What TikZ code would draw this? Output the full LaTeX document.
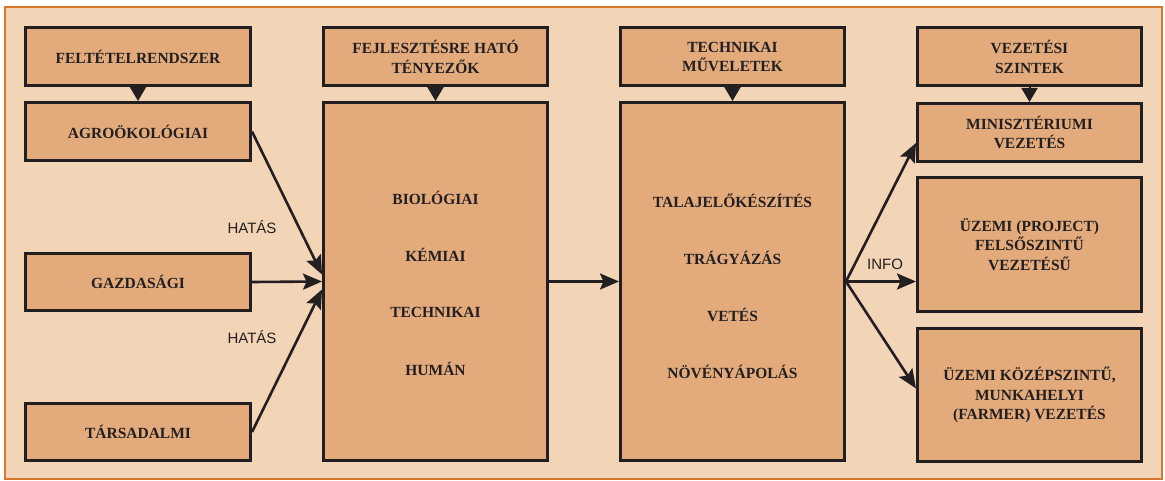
\documentclass[tikz,border=0pt]{standalone}
\usepackage{fontspec}
\setmainfont{Liberation Serif}
\newfontfamily\sansf{Liberation Sans}
\usetikzlibrary{arrows.meta}
\definecolor{peach}{HTML}{F2D4B7}
\definecolor{boxfill}{HTML}{E3AB7C}
\definecolor{frameor}{HTML}{D8762B}
\definecolor{ink}{HTML}{231F20}
\tikzset{
  boxnode/.style={draw=ink, fill=boxfill, line width=3pt, inner sep=0pt,
    align=center, text=ink, font=\bfseries\fontsize{15.5}{19.5}\selectfont},
  wide1/.style={minimum width=225pt},
  wide2/.style={minimum width=224pt},
  itemtext/.style={text=ink, font=\bfseries\fontsize{15.5}{19.5}\selectfont},
  lbl/.style={text=ink, font=\sansf\fontsize{15}{18}\selectfont},
  arr/.style={draw=ink, line width=2.6pt, -{Stealth[length=19pt,width=16pt,inset=3.5pt]}},
  downarr/.style={draw=ink, line width=2pt, -{Triangle[length=14pt,width=16pt]}}
}
\begin{document}
\begin{tikzpicture}[x=1pt,y=-1pt]
\useasboundingbox (0,0) rectangle (1165,481);
\fill[white] (0,0) rectangle (1165,481);
\draw[frameor, line width=2.2pt, fill=peach] (5,7) rectangle (1162,479);

% column 1
\node[boxnode, wide1, minimum height=58pt] (f1) at (138,56.5) {FELTÉTELRENDSZER};
\node[boxnode, wide1, minimum height=58pt] (a1) at (138,131.5) {AGROÖKOLÓGIAI};
\node[boxnode, wide1, minimum height=57pt] (g1) at (138,282) {GAZDASÁGI};
\node[boxnode, wide1, minimum height=57pt] (t1) at (138,432) {TÁRSADALMI};

% column 2
\node[boxnode, wide2, minimum height=58pt] (f2) at (435.5,57) {FEJLESZTÉSRE HATÓ\\TÉNYEZŐK};
\node[boxnode, wide2, minimum height=358pt] (b2) at (435.5,281.5) {};
\node[itemtext] (b2a) at (435.5,198) {BIOLÓGIAI};
\node[itemtext] (b2b) at (435.5,255) {KÉMIAI};
\node[itemtext] (b2c) at (435.5,312) {TECHNIKAI};
\node[itemtext] (b2d) at (435.5,369) {HUMÁN};

% column 3
\node[boxnode, wide2, minimum height=58pt] (f3) at (732.5,57) {TECHNIKAI\\MŰVELETEK};
\node[boxnode, wide2, minimum height=358pt] (b3) at (732.5,281.5) {};
\node[itemtext] (b3a) at (732.5,201) {TALAJELŐKÉSZÍTÉS};
\node[itemtext] (b3b) at (732.5,258) {TRÁGYÁZÁS};
\node[itemtext] (b3c) at (732.5,315) {VETÉS};
\node[itemtext] (b3d) at (732.5,372) {NÖVÉNYÁPOLÁS};

% column 4
\node[boxnode, wide2, minimum height=58pt] (f4) at (1029.5,57) {VEZETÉSI\\SZINTEK};
\node[boxnode, wide2, minimum height=58pt] (m4) at (1029.5,132.5) {MINISZTÉRIUMI\\VEZETÉS};
\node[boxnode, wide2, minimum height=133pt] (p4) at (1029.5,244.5) {ÜZEMI (PROJECT)\\FELSŐSZINTŰ\\VEZETÉSŰ};
\node[boxnode, wide2, minimum height=133pt] (k4) at (1029.5,395) {ÜZEMI KÖZÉPSZINTŰ,\\MUNKAHELYI\\(FARMER) VEZETÉS};

% labels
\node[lbl] (h1) at (252,227) {HATÁS};
\node[lbl] (h2) at (252,337) {HATÁS};
\node[lbl] (inf) at (885,264) {INFO};

% down arrows
\draw[downarr] (f1.south) -- (a1.north);
\draw[downarr] (f2.south) -- (b2.north);
\draw[downarr] (f3.south) -- (b3.north);
\draw[downarr] (f4.south) -- (m4.north);

% influence arrows
\draw[arr] (a1.east) -- ([yshift=7pt]b2.west);
\draw[arr] (g1.east) -- (b2.west);
\draw[arr] (t1.east) -- ([yshift=-8pt]b2.west);
\draw[arr] (b2.east) -- (b3.west);

% info arrows
\draw[arr] (b3.east) -- ([yshift=-10.5pt]m4.west);
\draw[arr] (b3.east) -- (p4.west |- b3.east);
\draw[arr] (b3.east) -- ([yshift=6.5pt]k4.west);
\end{tikzpicture}
\end{document}
